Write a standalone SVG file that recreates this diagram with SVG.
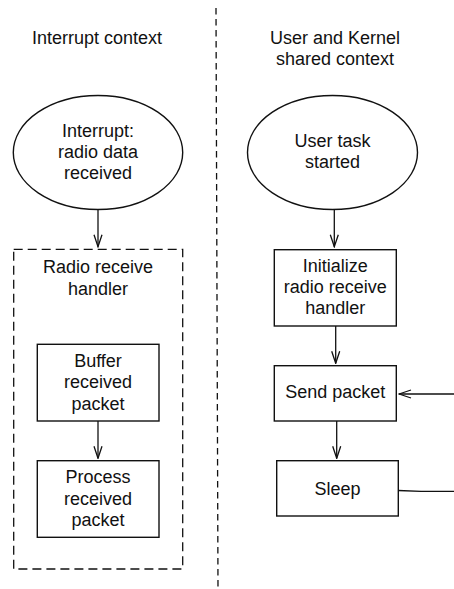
<svg xmlns="http://www.w3.org/2000/svg" width="454" height="589" viewBox="0 0 454 589">
<defs>
<style>
text{font-family:"Liberation Sans",Arial,Helvetica,sans-serif;font-size:18px;fill:#111;text-anchor:middle}
.s{fill:#fff;stroke:#111;stroke-width:1.4}
.c{fill:none;stroke:#111;stroke-width:1.3}
</style>
<marker id="ah" viewBox="0 0 14 10" refX="13" refY="5" markerWidth="14" markerHeight="10" markerUnits="userSpaceOnUse" orient="auto">
<path d="M1,1 L13,5 L1,9" fill="none" stroke="#111" stroke-width="1.3"/>
</marker>
</defs>
<rect width="454" height="589" fill="#fff"/>
<g id="divider"><line x1="216" y1="8" x2="218" y2="589" stroke="#111" stroke-width="1.3" stroke-dasharray="6.5 4.5"/></g>
<g id="title-left"><text x="97" y="43.5">Interrupt context</text></g>
<g id="title-right"><text x="335" y="43.5">User and Kernel</text><text x="335" y="64.5">shared context</text></g>
<g id="handler-group"><rect x="13.7" y="249.3" width="169" height="319.7" fill="none" stroke="#111" stroke-width="1.3" stroke-dasharray="9 5"/><text x="98" y="273.3">Radio receive</text><text x="98" y="294.5">handler</text></g>
<g id="interrupt"><ellipse class="s" cx="98" cy="152.5" rx="84.7" ry="57"/><text x="98" y="136.5">Interrupt:</text><text x="98" y="157.7">radio data</text><text x="98" y="178.5">received</text></g>
<g id="buffer"><rect class="s" x="37.3" y="344.3" width="121.7" height="76.7"/><text x="98" y="366.7">Buffer</text><text x="98" y="388.3">received</text><text x="98" y="410">packet</text></g>
<g id="process"><rect class="s" x="37.3" y="460.7" width="121.7" height="76.6"/><text x="98" y="482.7">Process</text><text x="98" y="504.5">received</text><text x="98" y="525.7">packet</text></g>
<g id="user-task"><ellipse class="s" cx="332.5" cy="152.5" rx="85" ry="57"/><text x="332.5" y="146.7">User task</text><text x="332.5" y="168.3">started</text></g>
<g id="init"><rect class="s" x="274.3" y="249.7" width="122" height="76.3"/><text x="335.3" y="271.7">Initialize</text><text x="335.3" y="292.7">radio receive</text><text x="335.3" y="314.3">handler</text></g>
<g id="send"><rect class="s" x="274.3" y="365.7" width="122" height="55.3"/><text x="335.3" y="398.3">Send packet</text></g>
<g id="sleep"><rect class="s" x="276.7" y="460.7" width="121.6" height="55.3"/><text x="337.5" y="495">Sleep</text></g>
<g id="connectors">
<line class="c" x1="98" y1="209.5" x2="98" y2="246.7" marker-end="url(#ah)"/>
<line class="c" x1="98" y1="421" x2="98" y2="458.3" marker-end="url(#ah)"/>
<line class="c" x1="334.3" y1="209.5" x2="334.3" y2="246.7" marker-end="url(#ah)"/>
<line class="c" x1="335.7" y1="326" x2="335.7" y2="363.3" marker-end="url(#ah)"/>
<line class="c" x1="336.7" y1="421" x2="336.7" y2="458.3" marker-end="url(#ah)"/>
<line class="c" x1="454" y1="394" x2="399" y2="394" marker-end="url(#ah)"/>
<polyline class="c" points="398.3,490.5 421,491.3 454,491.3"/>
</g>
</svg>
